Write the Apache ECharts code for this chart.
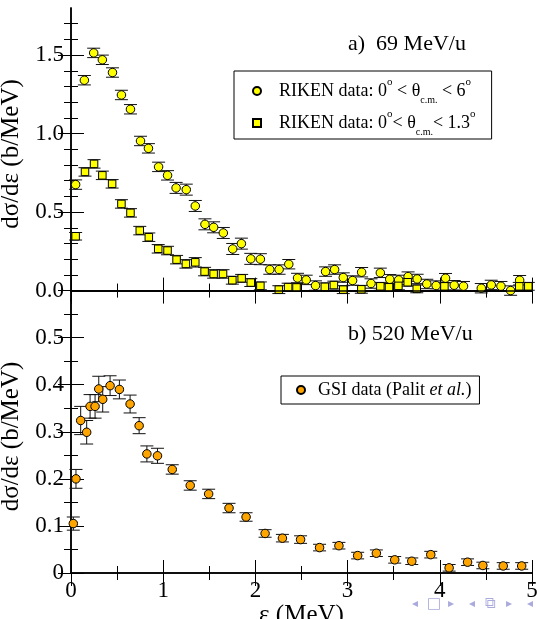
<!DOCTYPE html>
<html><head><meta charset="utf-8">
<script src="https://cdn.jsdelivr.net/npm/echarts@6/dist/echarts.min.js"></script>
<style>html,body{margin:0;padding:0;background:#fff}#c{width:537px;height:619px}</style>
</head><body><div id="c"></div>
<script>
// ---- Data ----
// a) 69 MeV/u, RIKEN 0° < θcm < 6°  (circles)
const riken6X = [0.05,0.145,0.246,0.34,0.45,0.547,0.645,0.754,0.84,0.95,1.047,1.14,1.25,1.348,1.453,1.547,1.652,1.754,1.848,1.95,2.054,2.156,2.257,2.362,2.457,2.551,2.652,2.761,2.859,2.953,3.054,3.152,3.254,3.355,3.457,3.554,3.656,3.754,3.859,3.96,4.062,4.156,4.257,4.45,4.558,4.663,4.768,4.866];
const riken6Y = [0.675,1.34,1.514,1.47,1.389,1.246,1.155,0.953,0.906,0.788,0.734,0.654,0.643,0.539,0.422,0.403,0.367,0.265,0.299,0.202,0.2,0.134,0.134,0.168,0.08,0.068,0.032,0.121,0.134,0.083,0.064,0.117,0.045,0.113,0.072,0.068,0.089,0.074,0.042,0.032,0.079,0.034,0.028,0.015,0.036,0.028,0.0,0.066];
const riken6Err = [0.03,0.03,0.03,0.03,0.03,0.03,0.03,0.03,0.03,0.03,0.03,0.035,0.035,0.035,0.035,0.035,0.035,0.035,0.035,0.035,0.035,0.03,0.03,0.03,0.03,0.03,0.03,0.03,0.03,0.03,0.03,0.03,0.03,0.03,0.03,0.03,0.03,0.03,0.03,0.03,0.03,0.03,0.03,0.03,0.03,0.03,0.03,0.03];
// a) RIKEN 0° < θcm < 1.3°  (squares)
const riken13X = [0.05,0.152,0.25,0.34,0.446,0.547,0.645,0.746,0.844,0.946,1.047,1.145,1.246,1.348,1.449,1.547,1.649,1.75,1.851,1.95,2.054,2.254,2.355,2.446,2.753,2.851,2.953,3.149,3.355,3.449,3.551,3.652,3.75,4.05,4.862,4.96];
const riken13Y = [0.346,0.756,0.807,0.734,0.68,0.552,0.495,0.382,0.34,0.266,0.255,0.197,0.17,0.18,0.121,0.106,0.106,0.066,0.078,0.051,0.03,0.006,0.022,0.02,0.024,0.035,0.006,0.008,0.027,0.021,0.03,0.053,0.011,0.027,0.027,0.027];
const riken13Err = [0.024,0.027,0.027,0.027,0.027,0.027,0.027,0.027,0.027,0.027,0.027,0.027,0.027,0.03,0.027,0.027,0.027,0.025,0.025,0.025,0.025,0.025,0.025,0.025,0.025,0.025,0.025,0.025,0.025,0.025,0.025,0.025,0.025,0.025,0.025,0.025];
// b) 520 MeV/u, GSI data (Palit et al.)
const gsiX = [0.025,0.054,0.105,0.17,0.207,0.261,0.301,0.344,0.424,0.525,0.641,0.739,0.823,0.938,1.098,1.293,1.493,1.714,1.899,2.105,2.293,2.49,2.696,2.906,3.109,3.312,3.511,3.696,3.902,4.101,4.301,4.467,4.688,4.888];
const gsiY = [0.105,0.2,0.324,0.299,0.354,0.354,0.391,0.369,0.398,0.39,0.359,0.313,0.253,0.249,0.22,0.186,0.168,0.138,0.119,0.084,0.074,0.071,0.054,0.058,0.037,0.042,0.028,0.025,0.039,0.011,0.023,0.016,0.015,0.015];
const gsiErr = [0.014,0.02,0.03,0.025,0.025,0.025,0.027,0.027,0.021,0.02,0.019,0.017,0.017,0.016,0.01,0.01,0.01,0.01,0.009,0.008,0.008,0.008,0.007,0.007,0.007,0.007,0.007,0.007,0.007,0.007,0.007,0.007,0.007,0.007];

// ---- Tick values ----
const topMajor = [0, 0.5, 1.0, 1.5];
const topMinor = [0.1,0.2,0.3,0.4,0.6,0.7,0.8,0.9,1.1,1.2,1.3,1.4,1.6,1.7];
const botMajor = [0, 0.1, 0.2, 0.3, 0.4, 0.5];
const botMinor = [0.05,0.15,0.25,0.35,0.45,0.55];
const xMajor = [0,1,2,3,4,5];
const xMinor = [0.5,1.5,2.5,3.5,4.5];
const navGlyphs = ['◂','□','▸','◂','⧉','▸','◂'];

const SERIF = "'Liberation Serif','Times New Roman',serif";
const FRAME = {show:true, lineStyle:{color:'#000', width:1.5}};
const NOFRAME = {show:false};

function zip3(a,b,c){ return a.map((v,i)=>[v,b[i],c[i]]); }
function zip2(a,b){ return a.map((v,i)=>[v,b[i]]); }

function yAx(grid, pos, min, max, vals, len, labels, fmt, name){
  const o = {
    type:'value', gridIndex:grid, position:pos, min:min, max:max, offset:0,
    splitLine:{show:false},
    axisLine: len>10 ? FRAME : NOFRAME,
    axisTick:{show:true, inside:true, length:len, customValues:vals, lineStyle:{color:'#000', width:1}},
    axisLabel:{show:!!labels, customValues:vals, margin:7, formatter:fmt, color:'#000', fontFamily:SERIF, fontSize:23}
  };
  if (name){
    o.name = name; o.nameLocation='middle'; o.nameGap=43;
    o.nameTextStyle = {fontFamily:SERIF, fontSize:25, color:'#000'};
  }
  return o;
}
function xAx(grid, pos, vals, len, showLine, labels, name){
  const o = {
    type:'value', gridIndex:grid, position:pos, min:0, max:5,
    splitLine:{show:false},
    axisLine: showLine ? FRAME : NOFRAME,
    axisTick:{show:true, inside:true, length:len, customValues:vals, lineStyle:{color:'#000', width:1}},
    axisLabel:{show:!!labels, customValues:vals, margin:6, color:'#000', fontFamily:SERIF, fontSize:23}
  };
  if (name){
    o.name = name; o.nameLocation='middle'; o.nameGap=28;
    o.nameTextStyle = {fontFamily:SERIF, fontSize:25, color:'#000'};
  }
  return o;
}

function errRender(params, api){
  const x = api.value(0), y = api.value(1), e = api.value(2);
  const lo = api.coord([x, y - e]), hi = api.coord([x, y + e]);
  const hw = 6.5;
  const st = {stroke:'#111', lineWidth:1};
  return {type:'group', children:[
    {type:'line', shape:{x1:lo[0], y1:lo[1], x2:hi[0], y2:hi[1]}, style:st},
    {type:'line', shape:{x1:lo[0]-hw, y1:lo[1], x2:lo[0]+hw, y2:lo[1]}, style:st},
    {type:'line', shape:{x1:hi[0]-hw, y1:hi[1], x2:hi[0]+hw, y2:hi[1]}, style:st}
  ]};
}

const legendRich = {
  g:{width:13},
  a:{fontFamily:SERIF, fontSize:18, color:'#000', lineHeight:28, verticalAlign:'middle'},
  sup:{fontFamily:SERIF, fontSize:11, color:'#000', lineHeight:28, verticalAlign:'top'},
  sub:{fontFamily:SERIF, fontSize:10, color:'#000', lineHeight:28, verticalAlign:'bottom'},
  it:{fontFamily:SERIF, fontSize:18, fontStyle:'italic', color:'#000', lineHeight:20, verticalAlign:'middle'},
  b:{fontFamily:SERIF, fontSize:18, color:'#000', lineHeight:20, verticalAlign:'middle'},
  g2:{width:8}
};
const N6 = 'RIKEN data: 0° < θc.m. < 6°';
const N13 = 'RIKEN data: 0°< θc.m. < 1.3°';
const NG = 'GSI data (Palit et al.)';
function legendFmt(n){
  if (n===N6) return '{g| }{a|RIKEN data: 0}{sup|o}{a| < θ}{sub|c.m.}{a| < 6}{sup|o}';
  if (n===N13) return '{g| }{a|RIKEN data: 0}{sup|o}{a|< θ}{sub|c.m.}{a|< 1.3}{sup|o}';
  return '{g2| }{b|GSI data (Palit }{it|et al.}{b|)}';
}

const navX = [415,434,451,472,490,509,530];
const navGraphics = navGlyphs.map((g,i)=>({type:'text', x:navX[i], y:604, silent:true,
  style:{text:g, fontFamily:"'DejaVu Sans'", fontSize:(g==='□'||g==='⧉')?15:12, fill:'#aaaadd', align:'center', verticalAlign:'middle'}}));

const chart = echarts.init(document.getElementById('c'), null, {renderer:'canvas'});
chart.setOption({
  animation:false,
  backgroundColor:'#fff',
  grid:[
    {left:71, top:8, width:461, height:292, containLabel:false, outerBoundsMode:'none'},
    {left:71, top:300, width:461, height:273, containLabel:false, outerBoundsMode:'none'}
  ],
  title:[
    {text:'a)  69 MeV/u', left:348, top:33, padding:0, textStyle:{fontFamily:SERIF, fontSize:22, fontWeight:'normal', color:'#000'}},
    {text:'b) 520 MeV/u', left:348, top:323, padding:0, textStyle:{fontFamily:SERIF, fontSize:22, fontWeight:'normal', color:'#000'}}
  ],
  legend:[
    {data:[N6, N13], orient:'vertical', left:234, top:71, itemWidth:8, itemHeight:8, itemGap:4,
     padding:[6,16,2,18], borderColor:'#000', borderWidth:1, selectedMode:false,
     formatter:legendFmt, textStyle:{rich:legendRich}},
    {data:[NG], orient:'vertical', left:281, top:376, itemWidth:8, itemHeight:8,
     padding:[5,8,5,15], borderColor:'#000', borderWidth:1, selectedMode:false,
     formatter:legendFmt, textStyle:{rich:legendRich}}
  ],
  xAxis:[
    xAx(0,'bottom',xMajor,13,true,false),
    xAx(0,'bottom',xMinor,7,false,false),
    xAx(0,'top',xMajor,13,true,false),
    xAx(0,'top',xMinor,7,false,false),
    xAx(1,'bottom',xMajor,13,true,true,'ε (MeV)'),
    xAx(1,'bottom',xMinor,7,false,false),
    xAx(1,'top',xMajor,13,true,false),
    xAx(1,'top',xMinor,7,false,false)
  ],
  yAxis:[
    yAx(0,'left',-0.06,1.8,topMajor,13,true,v=>v.toFixed(1),'dσ/dε (b/MeV)'),
    yAx(0,'left',-0.06,1.8,topMinor,7,false),
    yAx(0,'right',-0.06,1.8,topMajor,13,false),
    yAx(0,'right',-0.06,1.8,topMinor,7,false),
    yAx(1,'left',0,0.58,botMajor,13,true,v=>(v===0?'0':v.toFixed(1)),'dσ/dε (b/MeV)'),
    yAx(1,'left',0,0.58,botMinor,7,false),
    yAx(1,'right',0,0.58,botMajor,13,false),
    yAx(1,'right',0,0.58,botMinor,7,false)
  ],
  series:[
    {type:'custom', xAxisIndex:0, yAxisIndex:0, renderItem:errRender, data:zip3(riken6X,riken6Y,riken6Err), encode:{x:0,y:1}, z:2, silent:true,
     markLine:{silent:true, symbol:'none', label:{show:false}, lineStyle:{color:'#000', type:'solid', width:1.5}, data:[{yAxis:0}]}},
    {type:'custom', xAxisIndex:0, yAxisIndex:0, renderItem:errRender, data:zip3(riken13X,riken13Y,riken13Err), encode:{x:0,y:1}, z:2, silent:true},
    {type:'custom', xAxisIndex:4, yAxisIndex:4, renderItem:errRender, data:zip3(gsiX,gsiY,gsiErr), encode:{x:0,y:1}, z:2, silent:true},
    {name:N6, type:'scatter', xAxisIndex:0, yAxisIndex:0, data:zip2(riken6X,riken6Y), symbol:'circle', symbolSize:8.5,
     itemStyle:{color:'#ffff00', borderColor:'#000', borderWidth:1, opacity:1}, z:3},
    {name:N13, type:'scatter', xAxisIndex:0, yAxisIndex:0, data:zip2(riken13X,riken13Y), symbol:'rect', symbolSize:7.5,
     itemStyle:{color:'#ffff00', borderColor:'#000', borderWidth:1, opacity:1}, z:3},
    {name:NG, type:'scatter', xAxisIndex:4, yAxisIndex:4, data:zip2(gsiX,gsiY), symbol:'circle', symbolSize:8.5,
     itemStyle:{color:'#ffa500', borderColor:'#000', borderWidth:1, opacity:1}, z:3}
  ],
  graphic:navGraphics
});
</script>
</body></html>
